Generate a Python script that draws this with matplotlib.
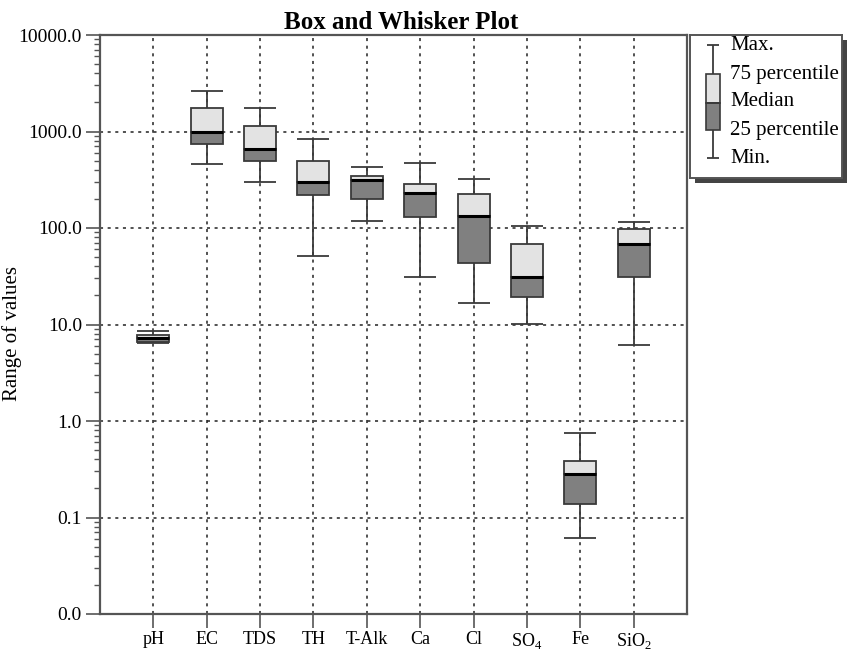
import numpy as np
import matplotlib
matplotlib.use("Agg")
import matplotlib.pyplot as plt
from matplotlib.ticker import LogLocator, FixedLocator, FuncFormatter
from matplotlib.patches import Rectangle

plt.rcParams['font.family'] = ['Liberation Serif', 'DejaVu Serif']
plt.rcParams['mathtext.fontset'] = 'custom'
plt.rcParams['mathtext.rm'] = 'Liberation Serif'

# values
params = ['pH', 'EC', 'TDS', 'TH', 'T-Alk', 'Ca', 'Cl', r'SO$_4$', 'Fe', r'SiO$_2$']
v_min = [6.4, 457, 302, 51, 119, 31.3, 16.8, 10.2, 0.061, 6.1]
v_q1 = [6.6, 742, 491, 218, 200, 129, 43, 19.1, 0.137, 31.3]
v_med = [7.25, 981, 659, 298, 314, 229, 134, 30.8, 0.283, 68.2]
v_q3 = [7.7, 1740, 1148, 495, 348, 288, 224, 68.7, 0.389, 98.4]
v_max = [8.5, 2650, 1740, 830, 432, 468, 322, 106, 0.745, 115]

light = '#e3e3e3'
dark = '#808080'
edge = '#3a3a3a'
frame = '#555555'

fig = plt.figure(figsize=(8.48, 6.51), dpi=100)
ax = fig.add_axes([100/848, 1 - 614/651, 587/848, 579/651])

x = np.arange(1, len(params) + 1)
q1 = np.array(v_q1); med = np.array(v_med); q3 = np.array(v_q3)
w = 0.6

ax.vlines(x, v_min, q1, color=edge, lw=1.3, zorder=3)
ax.vlines(x, q3, v_max, color=edge, lw=1.3, zorder=3)
ax.hlines(v_min, x - w/2, x + w/2, color=edge, lw=1.3, zorder=3)
ax.hlines(v_max, x - w/2, x + w/2, color=edge, lw=1.3, zorder=3)
ax.bar(x, q3 - med, bottom=med, width=w, color=light, edgecolor=edge, lw=1.3, zorder=4)
ax.bar(x, med - q1, bottom=q1, width=w, color=dark, edgecolor=edge, lw=1.3, zorder=4)
ax.hlines(med, x - w/2, x + w/2, color='black', lw=2.2, zorder=5)

ax.set_yscale('log')
ax.set_ylim(0.01, 10000)
ax.set_xlim(0, 11)
ax.yaxis.set_major_locator(FixedLocator([0.01, 0.1, 1, 10, 100, 1000, 10000]))
ax.yaxis.set_minor_locator(LogLocator(base=10, subs=np.arange(2, 10)))
ax.yaxis.set_major_formatter(FuncFormatter(lambda v, p: '%.1f' % v))
ax.yaxis.set_minor_formatter(FuncFormatter(lambda v, p: ''))
ax.set_xticks(x)
ax.set_xticklabels(params)

ax.grid(True, which='major', color='#222222', ls=(0, (2, 3)), lw=1.1)
ax.set_axisbelow(True)
ax.tick_params(axis='y', which='major', direction='out', length=10,
               width=1.2, color=frame, labelsize=14, pad=3)
ax.tick_params(axis='x', which='major', direction='out', length=10,
               width=1.2, color=frame, labelsize=13, pad=2)
ax.tick_params(axis='y', which='minor', direction='out', length=4, width=1, color=frame)
for s in ax.spines.values():
    s.set_color(frame)
    s.set_linewidth(1.6)

ax.set_title('Box and Whisker Plot', fontsize=18, fontweight='bold', pad=4, x=0.513)
ax.set_ylabel('Range of values', fontsize=15)
ax.yaxis.set_label_coords(-0.133, 0.485)

# legend drawn by hand
lw_ = 152/848
lh_ = 143/651
lx = 690/848
ly = 1 - 178/651
fig.patches.append(Rectangle((lx + 5/848, ly - 5/651), lw_, lh_, transform=fig.transFigure,
                             facecolor='#444444', edgecolor='none', zorder=1))
lg = fig.add_axes([lx, ly, lw_, lh_], zorder=2)
lg.set_xlim(0, 152)
lg.set_ylim(143, 0)
lg.set_xticks([])
lg.set_yticks([])
for s in lg.spines.values():
    s.set_color(frame)
    s.set_linewidth(1.4)
lg.vlines(23, 10, 39, color=edge, lw=1.3)
lg.vlines(23, 95, 123, color=edge, lw=1.3)
lg.hlines([10, 123], 17, 29, color=edge, lw=1.3)
lg.add_patch(Rectangle((16, 39), 14, 29, facecolor=light, edgecolor=edge, lw=1.2))
lg.add_patch(Rectangle((16, 68), 14, 27, facecolor=dark, edgecolor=edge, lw=1.2))
lg.hlines(68, 16, 30, color=edge, lw=1.2)
labels = ['Max.', '75 percentile', 'Median', '25 percentile', 'Min.']
for yy, t in zip([10, 39, 66, 95, 123], labels):
    lg.text(40, yy, t, fontsize=15, va='center', ha='left')

fig.savefig('out.png', dpi=100)
